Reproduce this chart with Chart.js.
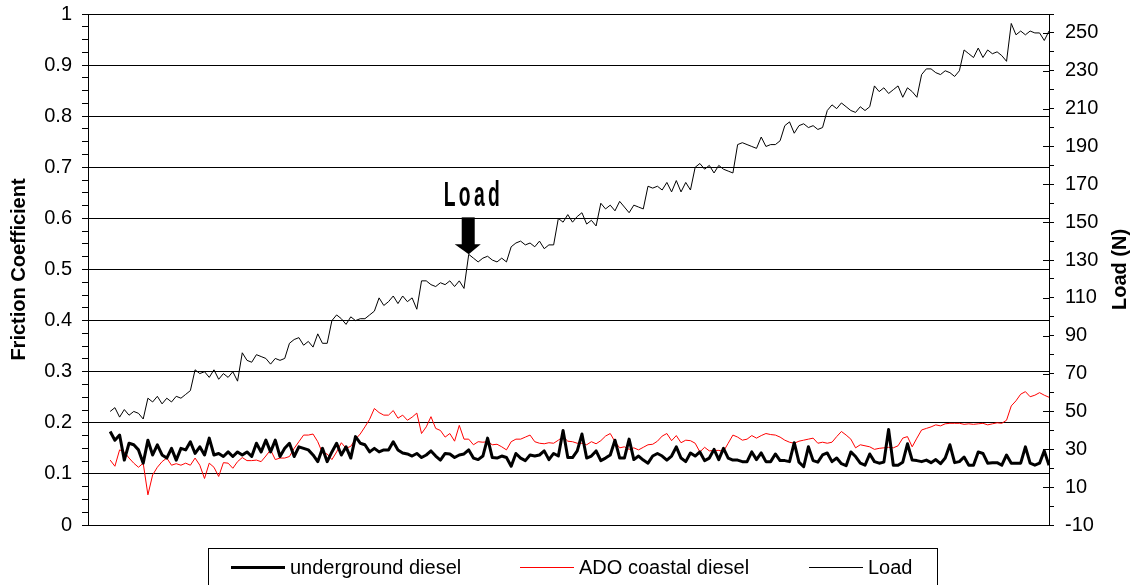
<!DOCTYPE html>
<html>
<head>
<meta charset="utf-8">
<script src="https://cdn.jsdelivr.net/npm/chart.js"></script>
<style>
  html, body { margin: 0; padding: 0; background: #fff; }
  #wrap { width: 1139px; height: 585px; }
</style>
</head>
<body>
<div id="wrap"><canvas id="frictionChart" width="1139" height="585"></canvas></div>
<script>
// Load (N) per sample
const loadN = [
  50, 52, 47, 51, 48, 50, 49, 46,
  57, 55, 58, 54, 57, 55, 58, 57, 59, 61,
  72, 70, 71, 68, 72, 67, 70, 68, 71, 66,
  81, 77, 76, 80, 79, 78, 75, 78, 77, 78,
  86, 88, 89, 85, 87, 84, 91, 86, 86,
  98, 101, 99, 96, 100, 98, 99, 99, 101,
  103, 110, 106, 108, 111, 107, 111, 108, 110, 104,
  119, 119, 117, 116, 118, 117, 119, 116, 119, 115,
  133, 131, 129, 131, 132, 130, 129, 131, 129,
  137, 139, 140, 138, 139, 137, 140, 136, 138,
  138, 152, 150, 154, 150, 153, 155, 149, 151, 148,
  160, 157, 159, 156, 161, 158, 155, 159, 158, 157,
  169, 168, 169, 167, 171, 166, 172, 166, 171,
  167, 179, 181, 178, 180, 176, 180, 178, 177, 176,
  191, 192, 191, 190, 189, 195, 190, 191, 191, 193,
  201, 203, 197, 201, 202, 200, 201, 199, 200,
  209, 212, 210, 213, 211, 209, 208, 211, 209, 211,
  222, 219, 221, 218, 220, 222, 216, 221, 219, 216,
  228, 231, 231, 229, 228, 230, 229, 227, 230,
  241, 239, 237, 242, 237, 241, 239, 240, 238, 235,
  255, 249, 251, 249, 251, 250, 250, 246, 251
];

// friction coefficient, underground diesel
const underground = [
  0.183, 0.166, 0.176, 0.127, 0.160, 0.157, 0.147, 0.121, 0.166, 0.137,
  0.157, 0.137, 0.131, 0.150, 0.127, 0.150, 0.147, 0.163, 0.140, 0.153,
  0.137, 0.170, 0.137, 0.140, 0.134, 0.143, 0.134, 0.143, 0.137, 0.143,
  0.134, 0.160, 0.143, 0.166, 0.143, 0.166, 0.134, 0.150, 0.160, 0.134,
  0.153, 0.150, 0.147, 0.137, 0.124, 0.150, 0.124, 0.143, 0.160, 0.137,
  0.153, 0.131, 0.173, 0.160, 0.157, 0.143, 0.150, 0.143, 0.147, 0.147,
  0.163, 0.147, 0.141, 0.139, 0.135, 0.140, 0.132, 0.137, 0.145, 0.135,
  0.127, 0.140, 0.139, 0.132, 0.137, 0.139, 0.147, 0.131, 0.128, 0.135,
  0.170, 0.132, 0.131, 0.135, 0.132, 0.115, 0.140, 0.131, 0.126, 0.137,
  0.135, 0.137, 0.145, 0.128, 0.140, 0.135, 0.185, 0.132, 0.132, 0.145,
  0.178, 0.131, 0.135, 0.145, 0.126, 0.131, 0.137, 0.166, 0.131, 0.131,
  0.168, 0.128, 0.135, 0.127, 0.121, 0.135, 0.140, 0.135, 0.127, 0.135,
  0.153, 0.131, 0.124, 0.141, 0.135, 0.143, 0.126, 0.131, 0.148, 0.128,
  0.150, 0.131, 0.127, 0.127, 0.124, 0.124, 0.143, 0.128, 0.141, 0.124,
  0.124, 0.139, 0.126, 0.126, 0.124, 0.161, 0.123, 0.114, 0.153, 0.126,
  0.123, 0.137, 0.141, 0.124, 0.131, 0.120, 0.116, 0.143, 0.134, 0.121,
  0.117, 0.139, 0.124, 0.121, 0.123, 0.187, 0.117, 0.117, 0.123, 0.159,
  0.127, 0.126, 0.124, 0.127, 0.122, 0.128, 0.120, 0.131, 0.157, 0.122,
  0.124, 0.133, 0.117, 0.117, 0.143, 0.140, 0.121, 0.122, 0.122, 0.117,
  0.137, 0.121, 0.121, 0.121, 0.153, 0.121, 0.117, 0.121, 0.145, 0.117
];

// friction coefficient, ADO coastal diesel
const adoCoastal = [
  0.127, 0.115, 0.147, 0.143, 0.131, 0.121, 0.113, 0.121, 0.059, 0.098,
  0.113, 0.124, 0.131, 0.117, 0.120, 0.117, 0.121, 0.117, 0.131, 0.117,
  0.091, 0.121, 0.113, 0.095, 0.122, 0.121, 0.111, 0.124, 0.132, 0.126,
  0.126, 0.127, 0.124, 0.135, 0.147, 0.128, 0.131, 0.131, 0.134, 0.150,
  0.163, 0.176, 0.176, 0.178, 0.163, 0.141, 0.139, 0.128, 0.143, 0.161,
  0.150, 0.154, 0.168, 0.178, 0.192, 0.207, 0.228, 0.220, 0.215, 0.215,
  0.224, 0.209, 0.215, 0.205, 0.211, 0.219, 0.179, 0.192, 0.212, 0.189,
  0.185, 0.172, 0.179, 0.164, 0.195, 0.168, 0.168, 0.157, 0.163, 0.162,
  0.163, 0.157, 0.158, 0.153, 0.147, 0.163, 0.168, 0.168, 0.172, 0.176,
  0.163, 0.160, 0.159, 0.161, 0.160, 0.166, 0.173, 0.164, 0.163, 0.160,
  0.160, 0.157, 0.163, 0.159, 0.165, 0.174, 0.179, 0.163, 0.151, 0.153,
  0.148, 0.151, 0.147, 0.152, 0.157, 0.158, 0.164, 0.174, 0.179, 0.165,
  0.175, 0.161, 0.166, 0.165, 0.160, 0.143, 0.152, 0.145, 0.146, 0.146,
  0.144, 0.160, 0.176, 0.172, 0.166, 0.168, 0.175, 0.170, 0.175, 0.179,
  0.177, 0.176, 0.172, 0.166, 0.162, 0.160, 0.164, 0.166, 0.168, 0.170,
  0.160, 0.162, 0.160, 0.162, 0.173, 0.183, 0.176, 0.168, 0.151, 0.157,
  0.155, 0.153, 0.148, 0.150, 0.151, 0.152, 0.151, 0.155, 0.170, 0.173,
  0.153, 0.170, 0.186, 0.189, 0.192, 0.196, 0.194, 0.198, 0.199, 0.199,
  0.199, 0.197, 0.198, 0.197, 0.198, 0.199, 0.196, 0.198, 0.200, 0.199,
  0.205, 0.233, 0.243, 0.256, 0.261, 0.251, 0.254, 0.259, 0.254, 0.250
];

const frictionTicks = [0, 0.1, 0.2, 0.3, 0.4, 0.5, 0.6, 0.7, 0.8, 0.9, 1];
const loadTicks = [-10, 10, 30, 50, 70, 90, 110, 130, 150, 170, 190, 210, 230, 250];

// "Load" arrow points at this sample of the load curve
const loadMarkIdx = 76;
const loadMarkText = 'Load';

const FONT = '"Liberation Sans", Arial, sans-serif';
const toXY = vals => vals.map((v, i) => ({ x: i, y: v }));
const isMajor = (v, list) => list.some(t => Math.abs(t - v) < 1e-6);
// keep the plot box where the reference has it
const fixBox = w => s => { s.width = w; s.paddingTop = 0; s.paddingBottom = 0; };

const extras = {
  id: 'extras',
  afterDraw(chart) {
    const { ctx, scales, chartArea: area } = chart;
    const yR = scales.y2, xS = scales.x;
    ctx.save();
    ctx.strokeStyle = '#000';
    ctx.lineWidth = 1;

    // inward major ticks on the load axis
    loadTicks.forEach(v => {
      const py = Math.round(yR.getPixelForValue(v)) + 0.5;
      ctx.beginPath();
      ctx.moveTo(area.right - 6, py);
      ctx.lineTo(area.right, py);
      ctx.stroke();
    });

    // right axis title, reads bottom to top
    ctx.save();
    ctx.font = 'bold 20px ' + FONT;
    ctx.fillStyle = '#000';
    ctx.textAlign = 'center';
    ctx.textBaseline = 'middle';
    ctx.translate(1120, (area.top + area.bottom) / 2);
    ctx.rotate(-Math.PI / 2);
    ctx.fillText('Load (N)', 0, 0);
    ctx.restore();

    // "Load" arrow annotation
    const tx = xS.getPixelForValue(loadMarkIdx);
    const ty = yR.getPixelForValue(loadN[loadMarkIdx]);
    ctx.fillStyle = '#000';
    ctx.fillRect(tx - 7, ty - 37, 13, 28);
    ctx.beginPath();
    ctx.moveTo(tx - 14, ty - 10);
    ctx.lineTo(tx + 12, ty - 10);
    ctx.lineTo(tx, ty);
    ctx.closePath();
    ctx.fill();
    ctx.save();
    ctx.font = 'bold 35px "Liberation Sans Narrow", ' + FONT;
    ctx.letterSpacing = '6px';
    const w = ctx.measureText(loadMarkText).width - 6;
    ctx.translate(tx + 3 - 28, ty - 48);
    ctx.scale(56 / w, 1);
    ctx.textAlign = 'left';
    ctx.textBaseline = 'alphabetic';
    ctx.fillText(loadMarkText, 0, 0);
    ctx.restore();

    // legend box
    ctx.strokeStyle = '#000';
    ctx.lineWidth = 1;
    ctx.strokeRect(208.5, 548.5, 729, 60);
    const slots = [231, 520, 809];
    ctx.font = '20px ' + FONT;
    ctx.textAlign = 'left';
    ctx.textBaseline = 'middle';
    chart.data.datasets.forEach((ds, k) => {
      const x0 = slots[k];
      ctx.strokeStyle = ds.borderColor;
      ctx.lineWidth = ds.borderWidth;
      ctx.beginPath();
      ctx.moveTo(x0, 567.5);
      ctx.lineTo(x0 + 54, 567.5);
      ctx.stroke();
      ctx.fillStyle = '#000';
      ctx.fillText(ds.label, x0 + 59, 568);
    });
    ctx.restore();
  }
};

const frictionCtx = document.getElementById('frictionChart').getContext('2d');
const frictionChart = new Chart(frictionCtx, {
  type: 'line',
  data: {
    datasets: [
      { label: 'underground diesel', data: toXY(underground), yAxisID: 'y',
        borderColor: '#000000', borderWidth: 3, borderJoinStyle: 'round' },
      { label: 'ADO coastal diesel', data: toXY(adoCoastal), yAxisID: 'y',
        borderColor: '#ff0000', borderWidth: 1 },
      { label: 'Load', data: toXY(loadN), yAxisID: 'y2',
        borderColor: '#000000', borderWidth: 1 }
    ]
  },
  options: {
    responsive: false,
    animation: false,
    devicePixelRatio: 1,
    layout: { padding: { top: 14, bottom: 60, left: 0, right: 0 } },
    elements: { point: { radius: 0 }, line: { tension: 0 } },
    plugins: { legend: { display: false }, tooltip: { enabled: false } },
    scales: {
      x: { type: 'linear', display: false, min: -4.7, max: 199 },
      y: {
        position: 'left', min: 0, max: 1,
        afterFit: fixBox(88),
        ticks: {
          stepSize: 0.025, autoSkip: false, padding: 10, color: '#000',
          font: { family: FONT, size: 20 },
          callback: v => isMajor(v, frictionTicks) ? String(Math.round(v * 10) / 10) : ''
        },
        grid: {
          tickLength: 6, lineWidth: 1, tickColor: '#000',
          color: c => isMajor(c.tick.value, frictionTicks) ? '#000' : 'rgba(0,0,0,0)'
        },
        border: { display: true, color: '#000', width: 1 },
        title: {
          display: true, text: 'Friction Coefficient', color: '#000',
          font: { family: FONT, size: 20, weight: 'bold' },
          padding: { top: 7, bottom: 0 }
        }
      },
      y2: {
        position: 'right', min: -10, max: 260,
        afterFit: fixBox(90),
        ticks: {
          stepSize: 10, autoSkip: false, padding: 11, color: '#000',
          font: { family: FONT, size: 20 },
          callback: v => isMajor(v, loadTicks) ? String(v) : ''
        },
        grid: { drawOnChartArea: false, tickLength: 5, tickColor: '#000', lineWidth: 1 },
        border: { display: true, color: '#000', width: 1 }
      }
    }
  },
  plugins: [extras]
});
</script>
</body>
</html>
